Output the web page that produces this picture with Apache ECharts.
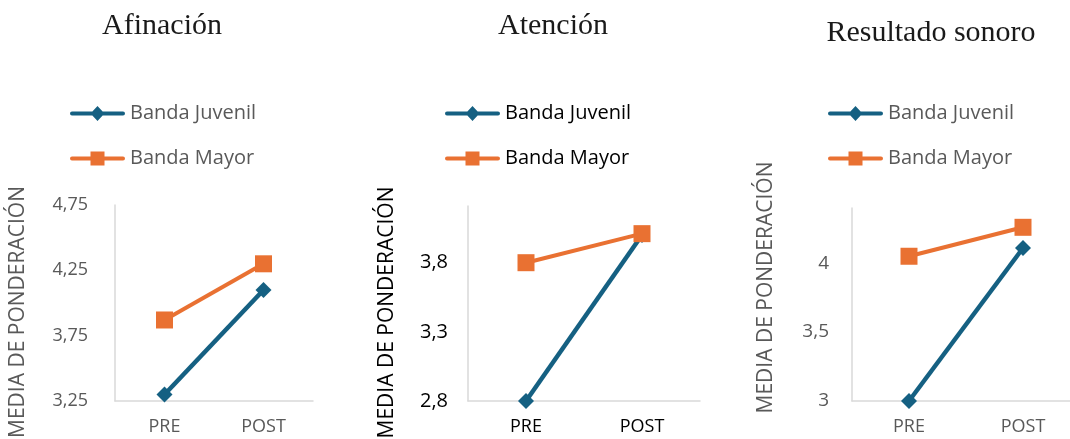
<!DOCTYPE html>
<html><head><meta charset="utf-8">
<script src="https://cdn.jsdelivr.net/npm/echarts@6/dist/echarts.min.js"></script>
<style>html,body{margin:0;padding:0;background:#fff}#c{width:1070px;height:439px}</style>
</head><body><div id="c"></div>
<script>
const categories = ['PRE', 'POST'];
const seriesNames = ['Banda Juvenil', 'Banda Mayor'];
const titles = ['Afinación', 'Atención', 'Resultado sonoro'];
const axisName = 'MEDIA DE PONDERACIÓN';
// chart 1: Afinación
const afinacionJuvenil = [3.30, 4.10];
const afinacionMayor = [3.87, 4.30];
const afinacionTicks = [3.25, 3.75, 4.25, 4.75];
// chart 2: Atención
const atencionJuvenil = [2.80, 4.00];
const atencionMayor = [3.80, 4.01];
const atencionTicks = [2.8, 3.3, 3.8];
// chart 3: Resultado sonoro
const sonoroJuvenil = [3.00, 4.11];
const sonoroMayor = [4.05, 4.26];
const sonoroTicks = [3, 3.5, 4];

const BLUE = '#156082', ORANGE = '#E97132', GREY = '#595959', AXIS = '#d9d9d9';
const FONT = '"Open Sans", "Noto Sans", sans-serif';

// legend icons: thick line with the series marker in the middle (55 x 18 box)
const ICON_DIAMOND = 'path://M2,7 L53,7 A2,2 0 0 1 53,11 L2,11 A2,2 0 0 1 2,7 Z M27.5,1.5 L34.5,9 L27.5,16.5 L20.5,9 Z';
const ICON_SQUARE = 'path://M2,7 L53,7 A2,2 0 0 1 53,11 L2,11 A2,2 0 0 1 2,7 Z M20.5,2 L34.5,2 L34.5,16 L20.5,16 Z';

const panels = [
  {title: titles[0], tx: 162, ty: 11, juv: afinacionJuvenil, may: afinacionMayor, ticks: afinacionTicks,
   min: 3.25, max: 4.75, left: 115, width: 198, top: 205, color: GREY, labSize: 18, labMargin: 27,
   nameGap: 86, namePad: [0, 18, 0, 0], legLeft: 70},
  {title: titles[1], tx: 553, ty: 11, juv: atencionJuvenil, may: atencionMayor, ticks: atencionTicks,
   min: 2.8, max: 4.21, left: 468, width: 232, top: 206, color: '#000000', labSize: 20, labMargin: 20,
   nameGap: 70, namePad: [0, 18, 0, 0], legLeft: 445},
  {title: titles[2], tx: 931, ty: 18, juv: sonoroJuvenil, may: sonoroMayor, ticks: sonoroTicks,
   min: 3, max: 4.40, left: 852, width: 228, top: 208, color: GREY, labSize: 19, labMargin: 23,
   nameGap: 75, namePad: [0, 0, 0, 34], legLeft: 828}
];

const fmt = v => String(v).replace('.', ',');

const option = {
  animation: false,
  backgroundColor: '#ffffff',
  title: panels.map(p => ({
    text: p.title, left: p.tx, top: p.ty, textAlign: 'center', padding: 0,
    textStyle: {fontFamily: '"Liberation Serif", serif', fontSize: 30, fontWeight: 'normal', color: '#1a1a1a'}
  })),
  legend: panels.map(p => ({
    data: [{name: seriesNames[0], icon: ICON_DIAMOND}, {name: seriesNames[1], icon: ICON_SQUARE}],
    orient: 'vertical', left: p.legLeft, top: 103, padding: 0,
    itemWidth: 55, itemHeight: 18, itemGap: 24,
    textStyle: {fontFamily: FONT, fontSize: 20, color: p.color, lineHeight: 21}
  })),
  grid: panels.map(p => ({left: p.left, width: p.width, top: p.top, bottom: 38,
    containLabel: false, outerBoundsMode: 'none'})),
  xAxis: panels.map((p, i) => ({
    type: 'category', gridIndex: i, data: categories, boundaryGap: true,
    axisLine: {lineStyle: {color: AXIS, width: 1.5}}, axisTick: {show: false},
    axisLabel: {color: p.color, fontFamily: FONT, fontSize: 18, margin: 17}
  })),
  yAxis: panels.map((p, i) => ({
    type: 'value', gridIndex: i, min: p.min, max: p.max,
    name: axisName, nameLocation: 'middle', nameRotate: 90, nameGap: p.nameGap,
    nameTextStyle: {color: p.color, fontFamily: FONT, fontSize: 21, padding: p.namePad},
    axisLine: {show: true, lineStyle: {color: AXIS, width: 1.5}},
    axisTick: {show: false}, splitLine: {show: false},
    axisLabel: {customValues: p.ticks, formatter: fmt, color: p.color, fontFamily: FONT,
      fontSize: p.labSize, margin: p.labMargin, showMinLabel: true, showMaxLabel: true}
  })),
  series: panels.flatMap((p, i) => [
    {name: seriesNames[0], type: 'line', xAxisIndex: i, yAxisIndex: i, data: p.juv,
     symbol: 'diamond', symbolSize: 16, color: BLUE,
     lineStyle: {width: 4.5, color: BLUE}, itemStyle: {color: BLUE}, z: 2},
    {name: seriesNames[1], type: 'line', xAxisIndex: i, yAxisIndex: i, data: p.may,
     symbol: 'rect', symbolSize: 17, color: ORANGE,
     lineStyle: {width: 4, color: ORANGE}, itemStyle: {color: ORANGE}, z: 3}
  ])
};
const chart = echarts.init(document.getElementById('c'), null, {renderer: 'canvas'});
chart.setOption(option);
</script></body></html>
